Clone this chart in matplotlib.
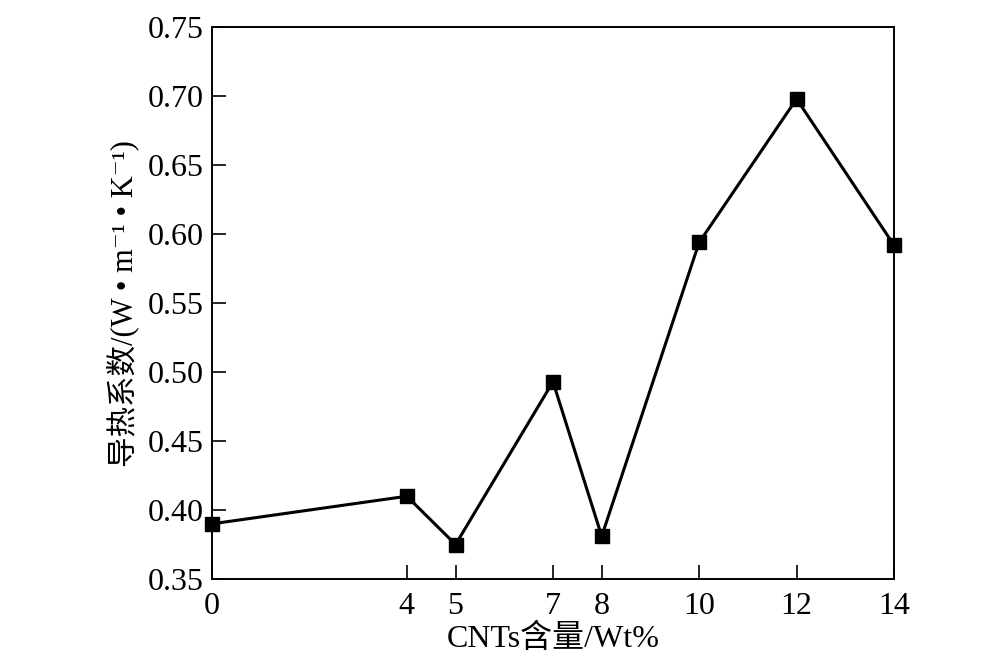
import numpy as np
import matplotlib
matplotlib.use("Agg")
import matplotlib.pyplot as plt

# Données
cnt_content = [0, 4, 5, 7, 8, 10, 12, 14]
conductivity = [0.390, 0.410, 0.375, 0.493, 0.381, 0.594, 0.698, 0.592]
x_ticks = [0, 4, 5, 7, 8, 10, 12, 14]
y_ticks = [0.35, 0.40, 0.45, 0.50, 0.55, 0.60, 0.65, 0.70, 0.75]

plt.rcParams['font.family'] = ['Liberation Serif', 'Noto Sans CJK SC', 'DejaVu Serif']

fig = plt.figure(figsize=(10, 6.64), dpi=100)
ax = fig.add_axes([0.212, 0.128, 0.682, 0.831])

ax.plot(cnt_content, conductivity, color='black', linewidth=2.2,
        marker='s', markersize=10, clip_on=False, zorder=5)

ax.set_xlim(0, 14)
ax.set_ylim(0.35, 0.75)
ax.set_xticks(x_ticks)
ax.set_yticks(y_ticks)
ax.set_yticklabels([f"{v:.2f}" for v in y_ticks])

ax.tick_params(direction='in', length=10, width=1.2, labelsize=23,
               top=False, right=False, pad=6)
ax.tick_params(axis='x', pad=9)
for s in ax.spines.values():
    s.set_linewidth(1.4)

ax.set_xlabel("CNTs含量/Wt%", fontsize=23, labelpad=2)
ax.set_ylabel("导热系数/(W • m⁻¹ • K⁻¹)", fontsize=22, labelpad=6)

fig.savefig("out.png", dpi=100)
